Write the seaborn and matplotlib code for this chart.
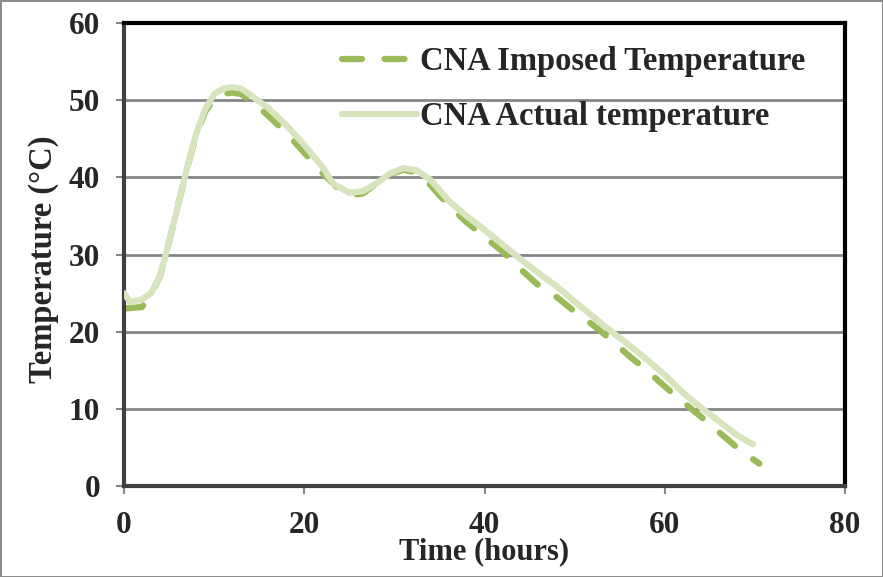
import pandas as pd
import matplotlib
matplotlib.use("Agg")
import matplotlib.pyplot as plt
import seaborn as sns

# -------------------------
# Data
# -------------------------
imposed_time = [0, 2, 3, 4, 5, 6, 7, 8, 9, 10, 11, 12, 13, 14, 16, 18, 20, 22, 24, 25,
                26.5, 28, 29.5, 31, 32.5, 34, 36, 38, 40, 42, 44, 46, 48, 50, 52, 54,
                56, 58, 60, 62, 64, 66, 68, 70, 70.5]
imposed_temp = [23.0, 23.2, 24.8, 27.2, 31.6, 36.4, 41.2, 45.4, 48.5, 50.2, 50.8, 51.0,
                50.8, 50.0, 48.0, 45.8, 43.2, 40.6, 38.3, 37.7, 37.9, 39.2, 40.4, 41.0,
                40.6, 39.0, 36.4, 34.2, 32.3, 30.4, 28.1, 26.0, 24.5, 22.6, 20.9, 19.0,
                16.9, 15.0, 12.9, 10.9, 9.0, 7.0, 5.0, 3.3, 2.9]

actual_time = [0, 0.7, 2, 3, 4, 5, 6, 7, 8, 9, 10, 11, 12, 13, 14, 16, 18, 20, 22, 23.2,
               25, 26.5, 28, 29.5, 31, 32.5, 34, 36, 38, 40, 42, 44, 46, 48, 50, 52, 54,
               56, 58, 60, 62, 64, 66, 68, 69.8]
actual_temp = [25.0, 23.8, 24.2, 25.0, 27.2, 31.6, 36.4, 41.2, 45.6, 48.8, 50.8, 51.5,
               51.7, 51.5, 50.7, 49.0, 46.8, 44.2, 41.4, 39.2, 38.0, 38.2, 39.2, 40.5,
               41.2, 40.9, 39.7, 37.0, 35.0, 33.2, 31.3, 29.4, 27.6, 25.9, 23.9, 22.0,
               20.1, 18.3, 16.4, 14.4, 12.1, 10.2, 8.4, 6.6, 5.4]

x_ticks = [0, 20, 40, 60, 80]
y_ticks = [0, 10, 20, 30, 40, 50, 60]

IMPOSED_COLOR = '#9BBB59'
ACTUAL_COLOR = '#D7E4BD'

imposed_df = pd.DataFrame({'time': imposed_time, 'temp': imposed_temp})
actual_df = pd.DataFrame({'time': actual_time, 'temp': actual_temp})

sns.set_style("white")
plt.rcParams['font.family'] = ['Liberation Serif', 'DejaVu Serif']
plt.rcParams['font.weight'] = 'bold'

fig = plt.figure(figsize=(8.83, 5.77), dpi=100)
fig.patch.set_edgecolor('#8c8c8c')
fig.patch.set_linewidth(2)
ax = fig.add_axes([0.1404, 0.1577, 0.957 - 0.1404, 0.960 - 0.1577])

ax.grid(axis='y', color='#868686', linewidth=2)
ax.set_axisbelow(True)

sns.lineplot(data=imposed_df, x='time', y='temp', ax=ax, color=IMPOSED_COLOR,
             linewidth=4.5, label='CNA Imposed Temperature', sort=False,
             dashes=False, zorder=2)
line_imp = ax.lines[-1]
line_imp.set_dashes([3.2, 3.6])
line_imp.set_dash_capstyle('round')

sns.lineplot(data=actual_df, x='time', y='temp', ax=ax, color=ACTUAL_COLOR,
             linewidth=4.5, label='CNA Actual temperature', sort=False, zorder=3)
ax.lines[-1].set_solid_capstyle('round')

ax.set_xlim(0, 80)
ax.set_ylim(0, 60)
ax.set_xticks(x_ticks)
ax.set_yticks(y_ticks)
ax.tick_params(axis='both', labelsize=22.5, direction='out', length=6, width=1.5,
               color='#868686', bottom=True, left=True)
ax.tick_params(axis='x', pad=12)
ax.tick_params(axis='y', pad=11)
for lab in ax.get_xticklabels() + ax.get_yticklabels():
    lab.set_fontweight('bold')

ax.set_xlabel('Time (hours)', fontsize=22, fontweight='bold', labelpad=-2)
ax.set_ylabel('Temperature (°C)', fontsize=23.5, fontweight='bold')
ax.yaxis.set_label_coords(-0.09, 0.49)

for side in ['top', 'right']:
    ax.spines[side].set_color('black')
    ax.spines[side].set_linewidth(3)
for side in ['left', 'bottom']:
    ax.spines[side].set_color('#404040')
    ax.spines[side].set_linewidth(3)

leg = ax.legend(loc='upper right', frameon=False, fontsize=23.5, handlelength=2.3,
                handletextpad=0.1, labelspacing=0.75, borderaxespad=0.3,
                bbox_to_anchor=(0.977, 1.0))
for txt in leg.get_texts():
    txt.set_fontweight('bold')

fig.savefig('out.png', dpi=100, edgecolor=fig.get_edgecolor())
